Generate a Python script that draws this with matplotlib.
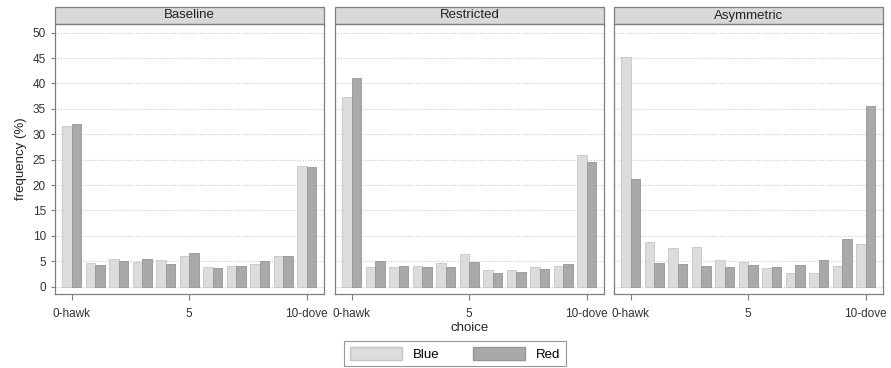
import numpy as np
import matplotlib
matplotlib.use("Agg")
import matplotlib.pyplot as plt
from matplotlib.patches import Rectangle

plt.rcParams['font.family'] = ['Liberation Sans Narrow', 'Liberation Sans', 'DejaVu Sans']

# choices 0 (hawk) .. 10 (dove)
choices = np.arange(11)
panels = ['Baseline', 'Restricted', 'Asymmetric']

baseline_blue = [31.6, 4.7, 5.4, 4.8, 5.2, 6.0, 3.8, 4.1, 4.5, 6.1, 23.8]
baseline_red = [32.0, 4.3, 5.0, 5.4, 4.5, 6.7, 3.6, 4.0, 5.0, 6.1, 23.6]
restricted_blue = [37.3, 3.9, 3.8, 4.1, 4.7, 6.4, 3.2, 3.3, 3.8, 4.1, 26.0]
restricted_red = [41.0, 5.0, 4.1, 3.8, 3.9, 4.8, 2.7, 2.8, 3.5, 4.5, 24.6]
asymmetric_blue = [45.3, 8.8, 7.5, 7.7, 5.2, 4.8, 3.6, 2.6, 2.6, 4.1, 8.4]
asymmetric_red = [21.1, 4.6, 4.4, 4.0, 3.9, 4.3, 3.8, 4.3, 5.2, 9.3, 35.5]

blue_vals = [baseline_blue, restricted_blue, asymmetric_blue]
red_vals = [baseline_red, restricted_red, asymmetric_red]

x_ticks = [0, 5, 10]
x_ticklabels = ['0-hawk', '5', '10-dove']
y_ticks = list(range(0, 55, 5))

blue_col, blue_edge = '#dcdcdc', '#c6c6c6'
red_col, red_edge = '#a9a9a9', '#969696'
frame_col = '#7f7f7f'

fig = plt.figure(figsize=(8.91, 3.68), dpi=100)
lefts = [55 / 891, 335 / 891, 614 / 891]
width = 269 / 891
bottom = 1 - 293.7 / 368
height = (293.7 - 24) / 368

for i, name in enumerate(panels):
    ax = fig.add_axes([lefts[i], bottom, width, height])
    ax.bar(choices - 0.2, blue_vals[i], width=0.4, color=blue_col,
           edgecolor=blue_edge, linewidth=0.6, zorder=2)
    ax.bar(choices + 0.2, red_vals[i], width=0.4, color=red_col,
           edgecolor=red_edge, linewidth=0.6, zorder=2)

    ax.set_xlim(-0.71, 10.73)
    ax.set_ylim(-1.4, 51.7)
    ax.set_yticks(y_ticks)
    ax.yaxis.grid(True, linestyle=(0, (1, 1.5)), color='#c8c8c8', linewidth=0.8, zorder=0)
    ax.set_axisbelow(True)

    ax.set_xticks(x_ticks)
    ax.set_xticklabels(x_ticklabels, fontsize=8.5, color='#333333')
    ax.tick_params(axis='x', length=4, color=frame_col, pad=6)
    ax.tick_params(axis='y', length=3, color=frame_col, labelsize=8.5,
                   labelcolor='#333333')
    if i > 0:
        ax.tick_params(axis='y', left=False, labelleft=False)

    for s in ax.spines.values():
        s.set_color(frame_col)
        s.set_linewidth(0.9)

    # facet strip on top
    strip_h = 17 / 269.7
    ax.add_patch(Rectangle((0, 1), 1, strip_h, transform=ax.transAxes,
                           facecolor='#d9d9d9', edgecolor=frame_col,
                           linewidth=0.9, clip_on=False))
    ax.text(0.5, 1 + strip_h / 2, name, transform=ax.transAxes,
            ha='center', va='center', fontsize=9.5, color='#222222')

    if i == 0:
        ax.set_ylabel('frequency (%)', fontsize=9.5, color='#222222', labelpad=4)
    if i == 1:
        ax.set_xlabel('choice', fontsize=9.5, color='#222222', labelpad=2)

# legend below
handles = [Rectangle((0, 0), 1, 1, facecolor=blue_col, edgecolor=blue_edge),
           Rectangle((0, 0), 1, 1, facecolor=red_col, edgecolor=red_edge)]
leg = fig.legend(handles, ['Blue', 'Red'], loc='lower center',
                 bbox_to_anchor=(455 / 891, 2 / 368), borderaxespad=0,
                 ncol=2, fontsize=9.5,
                 frameon=True, fancybox=False, handlelength=4.0, handleheight=1.2,
                 columnspacing=2.5, handletextpad=0.8, borderpad=0.4)
leg.get_frame().set_edgecolor(frame_col)
leg.get_frame().set_linewidth(0.8)

fig.savefig('out.png', dpi=100)
